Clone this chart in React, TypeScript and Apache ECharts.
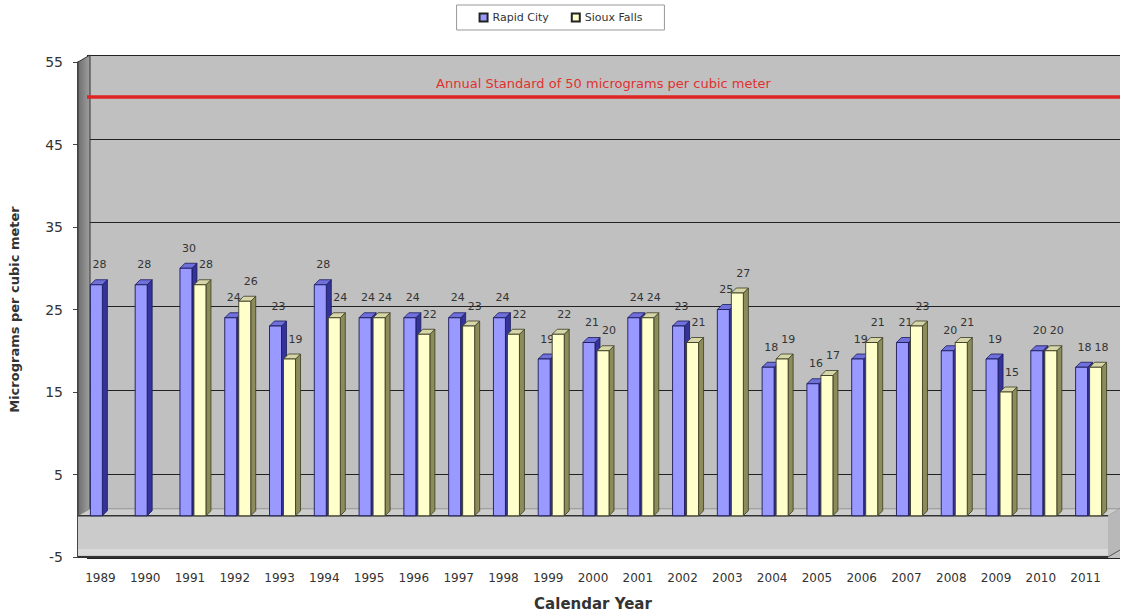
import React, { useEffect, useRef } from "react";
import * as echarts from "echarts";

const years = ["1989","1990","1991","1992","1993","1994","1995","1996","1997","1998","1999","2000","2001","2002","2003","2004","2005","2006","2007","2008","2009","2010","2011"];
const rapidCity = [28,28,30,24,23,28,24,24,24,24,19,21,24,23,25,18,16,19,21,20,19,20,18];
const siouxFalls: (number | null)[] = [null,null,28,26,19,24,24,22,23,22,22,20,24,21,27,19,17,21,23,21,15,20,18];
const standardValue = 50;
const standardLabel = "Annual Standard of 50 micrograms per cubic meter";
const yMin = -5;
const yMax = 55;
const yStep = 10;

const FONT = "DejaVu Sans, Verdana, sans-serif";
const WDX = 12;
const WDY = -7;
const BW = 12;
const BD = 5;

function barRenderer(offset: number, c: { front: string; side: string; top: string; edge: string }, labelDx: number) {
  return (params: any, api: any) => {
    const i = api.value(0);
    const v = api.value(1);
    const top = api.coord([i, v]);
    const base = api.coord([i, 0]);
    const x0 = top[0] + offset;
    const yT = top[1];
    const yB = base[1];
    return {
      type: "group",
      children: [
        { type: "polygon", shape: { points: [[x0 + BW, yT], [x0 + BW + BD, yT - BD], [x0 + BW + BD, yB - BD], [x0 + BW, yB]] }, style: { fill: c.side, stroke: c.edge, lineWidth: 0.8 } },
        { type: "polygon", shape: { points: [[x0, yT], [x0 + BD, yT - BD], [x0 + BW + BD, yT - BD], [x0 + BW, yT]] }, style: { fill: c.top, stroke: c.edge, lineWidth: 0.8 } },
        { type: "rect", shape: { x: x0, y: yT, width: BW, height: yB - yT }, style: { fill: c.front, stroke: c.edge, lineWidth: 0.9 } },
        { type: "text", x: x0 + BW / 2 + labelDx, y: yT - 20, style: { text: String(v), fill: "#333", font: "11px " + FONT, align: "center", verticalAlign: "middle" } },
      ],
    };
  };
}

function wallsRenderer(params: any, api: any) {
  const cs = params.coordSys;
  const x = cs.x, y = cs.y, w = cs.width, h = cs.height;
  const y0 = api.coord([0, 0])[1];
  const yb = y + h;
  return {
    type: "group",
    children: [
      { type: "polygon", shape: { points: [[x, y], [x + WDX, y + WDY], [x + WDX, yb + WDY], [x, yb]] }, style: { fill: new echarts.graphic.LinearGradient(0, 0, 1, 0, [{ offset: 0, color: "#6e6e6e" }, { offset: 1, color: "#a0a0a0" }]), stroke: "#333", lineWidth: 1 } },
      { type: "polygon", shape: { points: [[x, y0], [x + WDX, y0 + WDY], [x + w + WDX, y0 + WDY], [x + w, y0]] }, style: { fill: "#cdcdcd", stroke: "#888", lineWidth: 0.8 } },
      { type: "rect", shape: { x: x, y: y0, width: w, height: yb - y0 }, style: { fill: "#cbcbcb" } },
      { type: "rect", shape: { x: x, y: yb - 8, width: w, height: 6 }, style: { fill: "#dadada" } },
      { type: "polygon", shape: { points: [[x + w, y0], [x + w + WDX, y0 + WDY], [x + w + WDX, yb + WDY], [x + w, yb]] }, style: { fill: "#b8b8b8" } },
      { type: "line", shape: { x1: x, y1: y0, x2: x + w, y2: y0 }, style: { stroke: "#333", lineWidth: 1.5 } },
      { type: "line", shape: { x1: x, y1: yb, x2: x + w, y2: yb }, style: { stroke: "#333", lineWidth: 2 } },
      { type: "line", shape: { x1: x + w, y1: yb, x2: x + w + WDX, y2: yb + WDY }, style: { stroke: "#555", lineWidth: 1 } },
    ],
  };
}

export default function App() {
  const ref = useRef<HTMLDivElement>(null);
  useEffect(() => {
    if (!ref.current) return;
    const chart = echarts.init(ref.current, undefined, { renderer: "svg" });
    const blue = { front: "#9999ff", side: "#333399", top: "#7070dd", edge: "#1a1a5a" };
    const yellow = { front: "#ffffcc", side: "#8c8c5a", top: "#d6d6a8", edge: "#3a3a22" };
    const rcData = rapidCity.map((v, i) => [i, v]);
    const sfData = siouxFalls.map((v, i) => [i, v]).filter((d) => d[1] !== null);
    chart.setOption({
      animation: false,
      backgroundColor: "#ffffff",
      textStyle: { fontFamily: FONT },
      legend: {
        top: 5,
        left: "center",
        data: ["Rapid City", "Sioux Falls"],
        borderColor: "#999",
        borderWidth: 1,
        padding: [7, 22, 7, 22],
        itemGap: 22,
        itemWidth: 8,
        itemHeight: 8,
        icon: "rect",
        textStyle: { fontSize: 11, color: "#333", fontFamily: FONT },
      },
      grid: [
        { left: 87, right: 1, top: 55, bottom: 58, show: true, backgroundColor: "#c0c0c0", borderWidth: 0 },
        { left: 75, right: 13, top: 62, bottom: 51 },
      ],
      xAxis: [
        { type: "category", gridIndex: 0, data: years, show: false },
        {
          type: "category",
          gridIndex: 1,
          data: years,
          axisLine: { show: false },
          axisTick: { show: false },
          axisLabel: { fontSize: 12, color: "#333", margin: 15, fontFamily: FONT },
          name: "Calendar Year",
          nameLocation: "middle",
          nameGap: 39,
          nameTextStyle: { fontSize: 15, fontWeight: "bold", color: "#333", fontFamily: FONT },
        },
      ],
      yAxis: [
        {
          type: "value",
          gridIndex: 0,
          min: yMin,
          max: yMax,
          interval: yStep,
          axisLabel: { show: false },
          axisLine: { show: false },
          axisTick: { show: false },
          splitLine: { show: true, lineStyle: { color: "#222", width: 1.2 } },
        },
        {
          type: "value",
          gridIndex: 1,
          min: yMin,
          max: yMax,
          interval: yStep,
          splitLine: { show: false },
          axisLine: { show: true, lineStyle: { color: "#222", width: 1.5 } },
          axisTick: { show: true, length: 5, lineStyle: { color: "#444" } },
          axisLabel: { fontSize: 14, color: "#333", margin: 15, fontFamily: FONT },
          name: "Micrograms per cubic meter",
          nameLocation: "middle",
          nameGap: 57,
          nameTextStyle: { fontSize: 13, fontWeight: "bold", color: "#333", fontFamily: FONT },
        },
      ],
      series: [
        {
          type: "line",
          xAxisIndex: 0,
          yAxisIndex: 0,
          data: [],
          silent: true,
          markLine: {
            silent: true,
            symbol: "none",
            data: [{ yAxis: standardValue }],
            lineStyle: { color: "#e02424", width: 3.5, type: "solid" },
            label: { show: true, position: "middle", formatter: standardLabel, color: "#e03030", fontSize: 13, fontFamily: FONT, distance: 7 },
          },
        },
        {
          type: "custom",
          xAxisIndex: 1,
          yAxisIndex: 1,
          data: [[0, 0]],
          silent: true,
          z: 1,
          renderItem: wallsRenderer,
        },
        {
          name: "Rapid City",
          type: "custom",
          xAxisIndex: 1,
          yAxisIndex: 1,
          data: rcData,
          z: 3,
          itemStyle: { color: blue.front, borderColor: "#222", borderWidth: 1.5 },
          renderItem: barRenderer(-10, blue, 3),
        },
        {
          name: "Sioux Falls",
          type: "custom",
          xAxisIndex: 1,
          yAxisIndex: 1,
          data: sfData,
          z: 4,
          itemStyle: { color: yellow.front, borderColor: "#222", borderWidth: 1.5 },
          renderItem: barRenderer(4, yellow, 6),
        },
      ],
    });
    return () => chart.dispose();
  }, []);
  return <div ref={ref} style={{ position: "fixed", left: 0, top: 0, width: 1121, height: 616 }} />;
}
